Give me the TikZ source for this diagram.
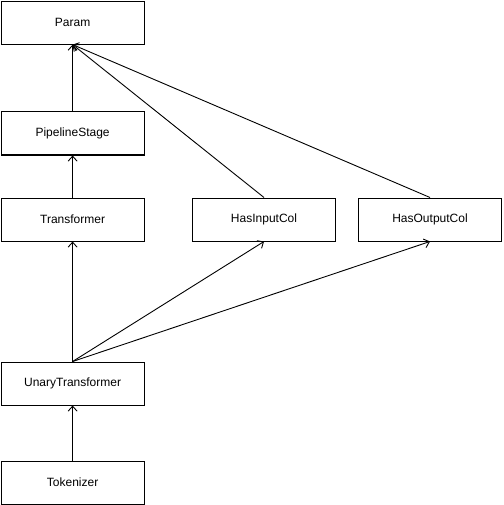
\documentclass[tikz,border=0pt]{standalone}
\usepackage{fontspec}
\setmainfont{Liberation Sans}
\usetikzlibrary{arrows.meta}
\begin{document}
\begin{tikzpicture}[x=1pt,y=-1pt,
  cls/.style={draw=black,line width=1pt,minimum width=143pt,minimum height=43pt,inner sep=0pt,font=\fontsize{12}{14}\selectfont,anchor=north west},
  inh/.style={draw=black,line width=0.9pt,-{Straight Barb[length=5pt,width=9pt,line width=0.9pt]}}]
\useasboundingbox (0,0) rectangle (503,505);
\node[cls] (param) at (0.6,0.6) {Param};
\node[cls] (stage) at (0.6,111.5) {PipelineStage};
\node[cls] (trans) at (0.6,197.5) {Transformer};
\node[cls] (hin) at (192,197.5) {HasInputCol};
\node[cls] (hout) at (358,197.5) {HasOutputCol};
\node[cls] (unary) at (0.6,361.5) {UnaryTransformer};
\node[cls] (tok) at (0.6,460.5) {Tokenizer};
\draw[inh] (stage.north) -- (param.south);
\draw[inh] (trans.north) -- (stage.south);
\draw[inh] (hin.north) -- (param.south);
\draw[inh] (hout.north) -- (param.south);
\draw[inh] (unary.north) -- (trans.south);
\draw[inh] (unary.north) -- (hin.south);
\draw[inh] (unary.north) -- (hout.south);
\draw[inh] (tok.north) -- (unary.south);
\end{tikzpicture}
\end{document}
